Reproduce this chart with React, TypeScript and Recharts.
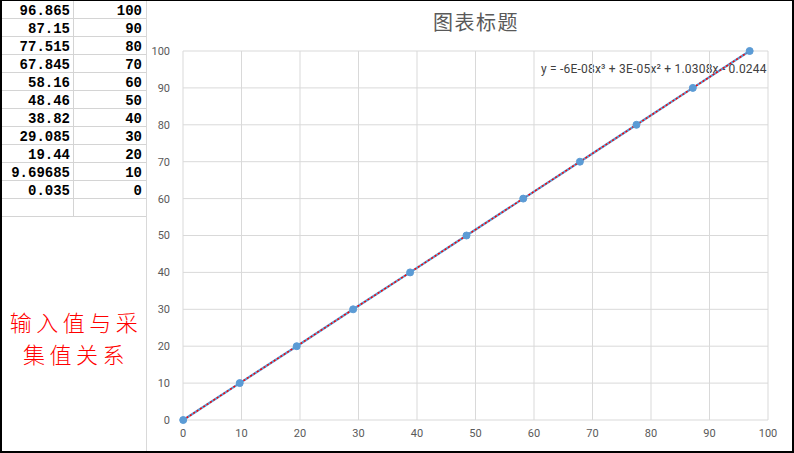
import React from "react";
import {
  ComposedChart,
  Line,
  XAxis,
  YAxis,
  CartesianGrid,
} from "recharts";

// measured values (column A) and input values (column B)
const measured = [96.865, 87.15, 77.515, 67.845, 58.16, 48.46, 38.82, 29.085, 19.44, 9.69685, 0.035];
const measuredLabels = ["96.865", "87.15", "77.515", "67.845", "58.16", "48.46", "38.82", "29.085", "19.44", "9.69685", "0.035"];
const inputs = [100, 90, 80, 70, 60, 50, 40, 30, 20, 10, 0];
const axisTicks = [0, 10, 20, 30, 40, 50, 60, 70, 80, 90, 100];

const title = "图表标题";
const equation = "y = -6E-08x³ + 3E-05x² + 1.0308x - 0.0244";
const note = ["输入值与采", "集值关系"];

const points = measured
  .map((x, i) => ({ x, y: inputs[i] }))
  .sort((a, b) => a.x - b.x);

const ROW = 18;
const tickStyle = { fill: "#595959", fontSize: 11, fontFamily: "Roboto, 'Liberation Sans', sans-serif" };

export default function App() {
  return (
    <div
      style={{
        position: "absolute",
        left: 0,
        top: 0,
        width: 794,
        height: 453,
        boxSizing: "border-box",
        borderLeft: "2px solid #000",
        borderRight: "2px solid #000",
        borderTop: "1px solid #000",
        borderBottom: "2px solid #000",
        background: "#fff",
        overflow: "hidden",
      }}
    >
      {/* spreadsheet cells */}
      <div style={{ position: "absolute", left: 0, top: 0, width: 144 }}>
        {[...measuredLabels, ""].map((label, i) => (
          <div
            key={i}
            style={{
              display: "flex",
              height: ROW - 1,
              borderBottom: "1px solid #d4d4d4",
              fontFamily: "'Liberation Mono', 'DejaVu Sans Mono', monospace",
              fontWeight: 700,
              fontSize: 14,
              lineHeight: `${ROW + 3}px`,
              color: "#000",
            }}
          >
            <div style={{ width: 68, paddingRight: 3, textAlign: "right", borderRight: "1px solid #d4d4d4" }}>{label}</div>
            <div style={{ width: 68, paddingRight: 3, textAlign: "right" }}>{label === "" ? "" : inputs[i]}</div>
          </div>
        ))}
      </div>

      <div
        style={{
          position: "absolute",
          left: 2,
          top: 304,
          width: 144,
          textAlign: "center",
          color: "#ff0000",
          fontFamily: "'Noto Sans CJK SC', sans-serif",
          fontWeight: 300,
          fontSize: 22,
          letterSpacing: 4.5,
          lineHeight: "32px",
        }}
      >
        {note.map((t) => (
          <div key={t}>{t}</div>
        ))}
      </div>

      {/* chart area */}
      <div
        style={{
          position: "absolute",
          left: 144,
          top: 0,
          width: 646,
          height: 450,
          borderLeft: "1px solid #d9d9d9",
        }}
      >
        <div
          style={{
            position: "absolute",
            left: 6,
            width: 646,
            top: 6,
            textAlign: "center",
            fontFamily: "'Noto Sans CJK SC', sans-serif",
            fontSize: 20,
            letterSpacing: 1.5,
            color: "#595959",
          }}
        >
          {title}
        </div>
        <div
          style={{
            position: "absolute",
            left: 394,
            top: 61,
            fontFamily: "Roboto, 'Liberation Sans', sans-serif",
            fontSize: 12,
            letterSpacing: 0.2,
            color: "#404040",
            whiteSpace: "nowrap",
          }}
        >
          {equation}
        </div>
        <ComposedChart
          width={645}
          height={450}
          data={points}
          margin={{ top: 50, right: 24, left: 0, bottom: 0 }}
          style={{ position: "absolute", left: 0, top: 0 }}
        >
          <CartesianGrid stroke="#d9d9d9" strokeWidth={1} />
          <XAxis
            type="number"
            dataKey="x"
            domain={[0, 100]}
            ticks={axisTicks}
            axisLine={false}
            tickLine={false}
            tickSize={0}
            tickMargin={9}
            height={31}
            tick={tickStyle}
          />
          <YAxis
            type="number"
            dataKey="y"
            domain={[0, 100]}
            ticks={axisTicks}
            axisLine={false}
            tickLine={false}
            tickSize={0}
            tickMargin={13}
            width={36}
            tick={tickStyle}
          />
          <Line
            dataKey="y"
            stroke="#5b9bd5"
            strokeWidth={2.25}
            dot={{ r: 3.5, fill: "#5b9bd5", stroke: "#5b9bd5", strokeWidth: 1 }}
            isAnimationActive={false}
          />
          <Line
            dataKey="y"
            stroke="#ff0000"
            strokeWidth={1.5}
            strokeDasharray="2 2"
            dot={false}
            activeDot={false}
            isAnimationActive={false}
          />
        </ComposedChart>
      </div>
    </div>
  );
}
